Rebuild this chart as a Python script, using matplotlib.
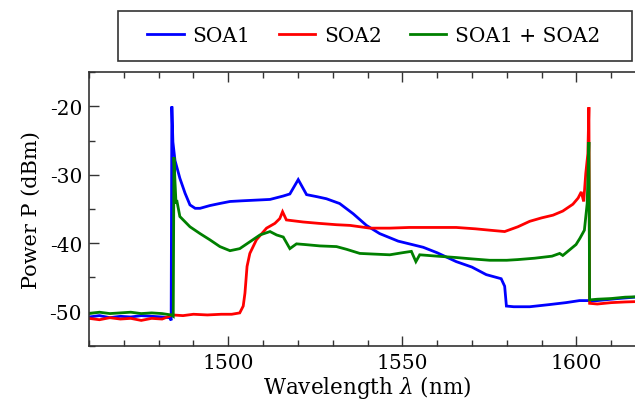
import matplotlib
matplotlib.use("Agg")
import matplotlib.pyplot as plt  # noqa: E402
from matplotlib.patches import Rectangle  # noqa: E402
from matplotlib.ticker import MultipleLocator  # noqa: E402

plt.rcParams["font.family"] = ["DejaVu Serif"]
plt.rcParams["mathtext.fontset"] = "dejavuserif"
plt.rcParams["axes.unicode_minus"] = False

# optical spectra (wavelength in nm, power in dBm)
wl_soa1 = [1460, 1463, 1466, 1469, 1472, 1475, 1478, 1481, 1483.2, 1483.6,
           1483.8, 1484.1, 1484.7, 1485.3, 1486.1, 1487.6, 1489.0, 1490.5,
           1491.9, 1494.7, 1497.5, 1500.5, 1504, 1508, 1512.0, 1515.8,
           1517.7, 1520.1, 1522.5, 1525.5, 1528.2, 1532.0, 1535.9, 1539.7,
           1543.5, 1548.8, 1552, 1556.0, 1560, 1565.5, 1570, 1574.1, 1578.4,
           1579.4, 1579.9, 1582, 1586.6, 1592, 1597, 1600.9, 1603.6, 1604,
           1608, 1612, 1616.7, 1620]
p_soa1 = [-50.8, -50.6, -50.9, -50.7, -50.8, -50.6, -50.7, -50.8, -50.9, -51.3,
          -20.0, -25.2, -27.9, -29.0, -30.5, -32.7, -34.4, -34.9,
          -34.9, -34.5, -34.2, -33.9, -33.8, -33.7, -33.6, -33.1,
          -32.8, -30.7, -32.9, -33.2, -33.5, -34.2, -35.7, -37.4,
          -38.6, -39.7, -40.1, -40.6, -41.4, -42.7, -43.5, -44.6, -45.2,
          -46.3, -49.2, -49.3, -49.3, -49.0, -48.7, -48.4, -48.4, -48.5,
          -48.3, -48.1, -47.9, -47.9]

wl_soa2 = [1460, 1463, 1466, 1469, 1472, 1475, 1478, 1481, 1484, 1487,
           1490, 1494, 1498, 1501, 1503.3, 1504.3, 1504.8, 1505.4, 1506.2,
           1508.1, 1511.0, 1513.4, 1514.8, 1515.6, 1516.7, 1521.5, 1526,
           1531.1, 1535, 1540.7, 1546.4, 1552, 1558.8, 1565.5, 1571, 1575.1,
           1579.4, 1583.2, 1586.6, 1590, 1593.3, 1596.1, 1599.0, 1600.5,
           1601.4, 1602.1, 1602.7, 1603.3, 1603.6, 1603.8, 1606, 1610, 1614,
           1620]
p_soa2 = [-51.0, -51.2, -50.9, -51.1, -51.0, -51.3, -51.0, -51.1, -50.5, -50.6,
          -50.4, -50.5, -50.4, -50.4, -50.2, -49.2, -47.3, -43.4, -41.5,
          -39.5, -37.8, -37.1, -36.4, -35.4, -36.6, -36.9, -37.1,
          -37.3, -37.4, -37.8, -37.8, -37.7, -37.7, -37.7, -37.9, -38.1,
          -38.3, -37.6, -36.8, -36.3, -35.9, -35.3, -34.3, -33.4,
          -32.5, -33.9, -29.8, -26.9, -20.1, -48.8, -48.9, -48.7, -48.6,
          -48.5]

wl_sum = [1460, 1463, 1466, 1469, 1472, 1475, 1478, 1481, 1483.6, 1484.2,
          1484.4, 1484.7, 1485.0, 1485.2, 1486.1, 1489.0, 1491.9, 1494.7,
          1497.6, 1500.5, 1503.3, 1506.2, 1509.1, 1512.0, 1513.9, 1515.8,
          1517.7, 1519.6, 1522, 1526.3, 1531.1, 1534, 1537.8, 1542, 1546.4,
          1550, 1552.6, 1553.9, 1555.0, 1560, 1565.5, 1570, 1575.1, 1580,
          1583.2, 1588, 1593, 1595.2, 1596.1, 1598, 1599.9, 1601.0, 1602.3,
          1603.1, 1603.6, 1603.8, 1606, 1610, 1614, 1620]
p_sum = [-50.3, -50.1, -50.3, -50.2, -50.1, -50.3, -50.2, -50.3, -50.5, -50.7,
         -27.4, -31.0, -34.2, -33.7, -36.1, -37.6, -38.6, -39.5,
         -40.5, -41.1, -40.8, -39.8, -38.8, -38.3, -38.8, -39.1,
         -40.8, -40.1, -40.2, -40.4, -40.5, -40.9, -41.5, -41.6, -41.7,
         -41.4, -41.2, -42.7, -41.7, -41.9, -42.1, -42.3, -42.5, -42.5,
         -42.4, -42.2, -41.9, -41.5, -41.8, -41.0, -40.2, -39.3, -38.1,
         -34.2, -25.2, -48.3, -48.2, -48.1, -47.9, -47.8]

series_names = ["SOA1", "SOA2", "SOA1 + SOA2"]
series_colors = ["#0000ff", "#ff0000", "#008000"]

W, H = 635, 402
fig = plt.figure(figsize=(W / 100, H / 100), dpi=100)
ax = fig.add_axes([89 / W, 1 - 346.7 / H, (646 - 89) / W, (346.7 - 73.3) / H])

lines = []
for wl, p, name, c in zip([wl_soa1, wl_soa2, wl_sum], [p_soa1, p_soa2, p_sum],
                          series_names, series_colors):
    ln, = ax.plot(wl, p, color=c, lw=2.0, label=name, solid_joinstyle="miter")
    lines.append(ln)

ax.set_xlim(1460, 1620)
ax.set_ylim(-55, -15)
ax.xaxis.set_major_locator(MultipleLocator(50))
ax.xaxis.set_minor_locator(MultipleLocator(10))
ax.yaxis.set_major_locator(MultipleLocator(10))
ax.yaxis.set_minor_locator(MultipleLocator(5))
ax.tick_params(which="both", direction="in", top=True, right=True,
               labelsize=14.5, color="#333333", width=1.0)
ax.tick_params(which="major", length=7, pad=5)
ax.tick_params(which="minor", length=4)
for s in ax.spines.values():
    s.set_color("#333333")
    s.set_linewidth(1.2)

ax.set_xlabel(r"Wavelength $\lambda$ (nm)", fontsize=15.5, labelpad=1)
ax.set_ylabel("Power P (dBm)", fontsize=15, labelpad=6)

# legend row with its own box above the axes
fig.add_artist(Rectangle((118 / W, 1 - 62 / H), (632 - 118) / W, 50 / H,
                         transform=fig.transFigure, fill=False,
                         edgecolor="#333333", lw=1.2))
fig.legend(handles=lines, loc="center", bbox_to_anchor=(374 / W, 1 - 37 / H),
           ncol=3, frameon=False, fontsize=14.5, handlelength=1.8,
           handletextpad=0.45, columnspacing=1.4)

fig.savefig("out.png", dpi=100)
